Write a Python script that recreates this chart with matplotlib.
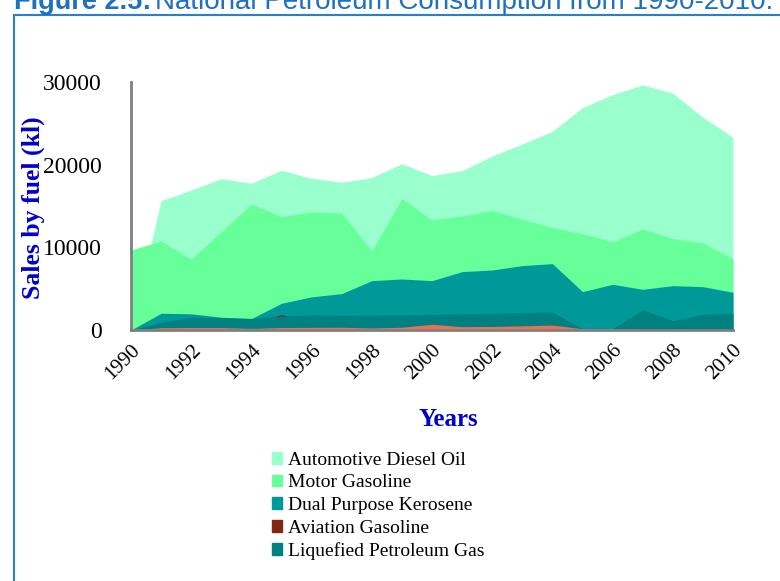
import numpy as np
import matplotlib
matplotlib.use('Agg')
import matplotlib.pyplot as plt
from matplotlib.patches import Patch, Rectangle

# data (kl)
years = list(range(1990, 2011))
diesel = [0, 15650, 16940, 18310, 17750, 19320, 18350, 17870, 18430, 20120, 18670,
          19280, 21050, 22500, 24040, 26900, 28470, 29650, 28640, 25740, 23310]
gasoline = [9680, 10770, 8550, 11900, 15250, 13710, 14280, 14140, 9560, 15890, 13310,
            13790, 14440, 13390, 12380, 11660, 10650, 12220, 11050, 10530, 8590]
kerosene = [0, 2020, 1960, 1540, 1380, 3230, 4010, 4400, 5970, 6170, 5970,
            7060, 7260, 7790, 8030, 4640, 5530, 4920, 5370, 5240, 4560]
avgas = [0, 300, 400, 600, 860, 1860, 1040, 700, 600, 600, 600,
         600, 600, 600, 600, 100, 80, 80, 60, 40, 0]
lpg = [0, 930, 1540, 1500, 1400, 1690, 1815, 1780, 1800, 1830, 1880,
       1950, 2000, 2100, 2180, 150, 150, 2450, 1130, 1900, 2030]
other = [0, 280, 300, 300, 200, 300, 320, 330, 250, 330, 690,
         400, 430, 500, 600, 160, 120, 100, 80, 40, 0]

names = ['Automotive Diesel Oil', 'Motor Gasoline', 'Dual Purpose Kerosene',
         'Aviation Gasoline', 'Liquefied Petroleum Gas']
colors = ['#99FFCC', '#66FF99', '#009999', '#7F2615', '#008080']
series = [diesel, gasoline, kerosene, avgas, lpg]

serif = ['Liberation Serif', 'DejaVu Serif']
blue = '#0000CC'

fig = plt.figure(figsize=(7.8, 5.81), dpi=100)
ax = fig.add_axes([131 / 780, 1 - 330 / 581, 602 / 780, 248 / 581])

# overlapping (unstacked) areas, first series at the back
for vals, c in zip(series, colors):
    ax.fill_between(years, 0, vals, color=c, lw=0)
ax.fill_between(years, 0, other, color='#EE7050', lw=0)

ax.set_xlim(1990, 2010)
ax.set_ylim(0, 30000)
ax.set_xticks(years[::2])
ax.set_xticklabels([str(y) for y in years[::2]], rotation=45, ha='right',
                   va='top', rotation_mode='anchor', family=serif, fontsize=15)
ax.set_yticks([0, 10000, 20000, 30000])
ax.set_yticklabels(['0', '10000', '20000', '30000'], family=serif, fontsize=17)
ax.tick_params(length=0, pad=21, axis='y')
ax.tick_params(length=0, pad=8, axis='x')
for s in ['top', 'right']:
    ax.spines[s].set_visible(False)
for s in ['left', 'bottom']:
    ax.spines[s].set_color('#808080')
    ax.spines[s].set_linewidth(2)

fig.text(33 / 780, 1 - 208 / 581, 'Sales by fuel (kl)', rotation=90, ha='center',
         va='center', color=blue, fontweight='bold', family=serif, fontsize=18.5)
fig.text(448 / 780, 1 - 420 / 581, 'Years', ha='center', va='center', color=blue,
         fontweight='bold', family=serif, fontsize=18)

handles = [Patch(color=c, label=n) for n, c in zip(names, colors)]
fig.legend(handles=handles, loc='upper left', bbox_to_anchor=(264 / 780, 1 - 444 / 581),
           frameon=False, prop={'family': serif, 'size': 14}, handlelength=0.55,
           handleheight=0.55, handletextpad=0.3, labelspacing=0.29, borderaxespad=0)

# frame and cut-off caption at the top
fig.patches.append(Rectangle((14 / 780, -0.1), 1.2, 1 - 15 / 581 + 0.1, transform=fig.transFigure,
                             fill=False, edgecolor='#2A7FCC', lw=1.5))
fig.text(14 / 780, 1 - 9 / 581, 'Figure 2.5:', color='#1F70C0', fontweight='bold',
         family=['Liberation Sans'], fontsize=19.5, va='baseline')
fig.text(155 / 780, 1 - 9 / 581, 'National Petroleum Consumption from 1990-2010.',
         color='#1F70C0', family=['Liberation Sans'], fontsize=20, va='baseline')

fig.savefig('out.png', dpi=100)
